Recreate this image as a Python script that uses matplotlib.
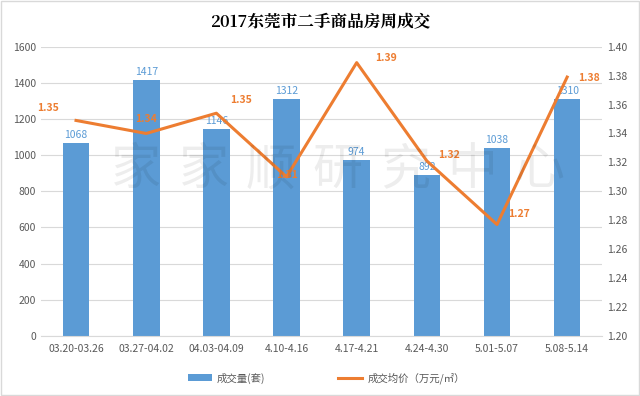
import numpy as np
import matplotlib
matplotlib.use("Agg")
import matplotlib.pyplot as plt

plt.rcParams['font.family'] = ['Noto Sans CJK SC', 'DejaVu Sans']

# 데이터
weeks = ['03.20-03.26', '03.27-04.02', '04.03-04.09', '4.10-4.16',
         '4.17-4.21', '4.24-4.30', '5.01-5.07', '5.08-5.14']
volume = [1068, 1417, 1146, 1312, 974, 892, 1038, 1310]
price = [1.349, 1.340, 1.354, 1.310, 1.389, 1.321, 1.277, 1.379]
price_labels = ['1.35', '1.34', '1.35', '1.31', '1.39', '1.32', '1.27', '1.38']

bar_c = '#5B9BD5'
line_c = '#ED7D31'
tick_c = '#595959'

fig = plt.figure(figsize=(6.4, 3.96), dpi=100)
ax = fig.add_axes([0.064, 0.152, 0.877, 0.73])
ax2 = ax.twinx()

x = np.arange(len(weeks))
ax.bar(x, volume, width=0.38, color=bar_c, zorder=2, label='成交量(套)')
for xi, v in zip(x, volume):
    ax.annotate(str(v), (xi, v), xytext=(0, 2), textcoords='offset points',
                ha='center', va='bottom', fontsize=7.5, color=bar_c)

ax.set_xlim(-0.5, len(weeks) - 0.5)
ax.set_ylim(0, 1600)
ax.set_yticks(np.arange(0, 1601, 200))
ax.grid(axis='y', color='#D9D9D9', linewidth=0.8, zorder=0)
ax.set_axisbelow(True)
ax.set_xticks(x)
ax.set_xticklabels(weeks)

ax2.plot(x, price, color=line_c, linewidth=2.2, zorder=3, label='成交均价（万元/㎡）')
ax2.set_ylim(1.20, 1.40)
ax2.set_yticks(np.arange(1.20, 1.401, 0.02))
ax2.yaxis.set_major_formatter(plt.FormatStrFormatter('%.2f'))

# 가격 라벨 위치 (엑셀 스타일)
offs = [(-20, 5), (0, 7), (10, 6), (0, -2), (13, 0), (8, 1), (8, 4), (8, -4)]
for xi, p, lab, (dx, dy) in zip(x, price, price_labels, offs):
    ha = 'left' if dx > 0 else 'center'
    ax2.annotate(lab, (xi, p), xytext=(dx, dy), textcoords='offset points',
                 ha=ha, va='bottom', fontsize=7.5, color=line_c, fontweight='bold')

for a in (ax, ax2):
    for s in a.spines.values():
        s.set_visible(False)
    a.tick_params(length=0, labelsize=7.5, colors=tick_c)
ax.spines['bottom'].set_visible(True)
ax.spines['bottom'].set_color('#D9D9D9')
ax.tick_params(axis='x', pad=6)

# 워터마크
wm = '家家顺研究中心'
for i, ch in enumerate(wm):
    fig.text(0.213 + i * 0.105, 0.57, ch, fontsize=36, color='#000000', alpha=0.07,
             ha='center', va='center', zorder=0)

fig.suptitle('2017东莞市二手商品房周成交', y=0.965, fontsize=12, fontweight='bold',
             family=['Noto Serif CJK SC', 'Noto Sans CJK SC', 'DejaVu Sans'])

h1, l1 = ax.get_legend_handles_labels()
h2, l2 = ax2.get_legend_handles_labels()
fig.legend(h1 + h2, l1 + l2, loc='center', bbox_to_anchor=(0.51, 0.045), ncol=2,
           frameon=False, fontsize=7.5, labelcolor=tick_c, handlelength=2.3,
           handletextpad=0.5, columnspacing=7)

fig.patches.append(plt.Rectangle((0.002, 0.003), 0.996, 0.994, transform=fig.transFigure,
                                 fill=False, edgecolor='#D9D9D9', linewidth=1))

fig.savefig('out.png', dpi=100)
